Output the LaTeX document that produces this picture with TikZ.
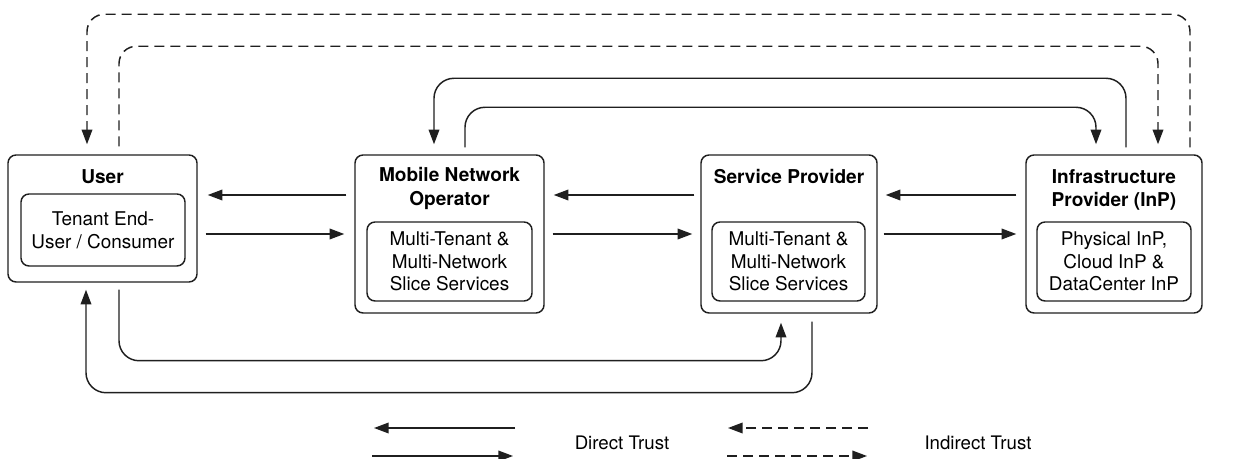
\documentclass[tikz,border=0pt]{standalone}
\usepackage{fontspec}
\setmainfont{TeX Gyre Heros}
\usetikzlibrary{arrows.meta,calc}
\begin{document}
\begin{tikzpicture}[x=0.75pt,y=-0.75pt,
  ink/.style={draw=black!88, line width=1.1pt},
  outerbox/.style={ink, rounded corners=6pt, inner sep=0pt},
  innerbox/.style={ink, rounded corners=6pt, inner sep=0pt, align=center,
    font=\fontsize{14.2pt}{17pt}\selectfont},
  title/.style={align=center, font=\fontsize{14.3pt}{17.5pt}\selectfont\bfseries},
  legendtext/.style={font=\fontsize{14pt}{17pt}\selectfont},
  tip/.style={-{Triangle[length=11pt,width=8pt]}},
  dt/.style={ink, tip},
  it/.style={ink, tip, dash pattern=on 7.5pt off 4.5pt},
  dtbend/.style={dt, rounded corners=15pt},
  itbend/.style={it, rounded corners=13pt}]
\useasboundingbox (0,0) rectangle (1239,459);

% actors
\node[outerbox, minimum width=141.75pt, minimum height=95.25pt] (user) at (102.5,218.5) {};
\node[title] (usert) at (102.5,177) {User};
\node[innerbox, minimum width=123pt, minimum height=54pt] (useri) at (103,230)
  {Tenant End-\\User / Consumer};

\node[outerbox, minimum width=141.75pt, minimum height=118.5pt] (mno) at (449.5,234) {};
\node[title] (mnot) at (449.5,188.5) {Mobile Network\\Operator};
\node[innerbox, minimum width=123.75pt, minimum height=59.25pt] (mnoi) at (449.5,261.5)
  {Multi-Tenant \&\\Multi-Network\\Slice Services};

\node[outerbox, minimum width=132pt, minimum height=118.5pt] (sp) at (789,234) {};
\node[title] (spt) at (789,177) {Service Provider};
\node[innerbox, minimum width=114.75pt, minimum height=59.25pt] (spi) at (788.5,261.5)
  {Multi-Tenant \&\\Multi-Network\\Slice Services};

\node[outerbox, minimum width=132pt, minimum height=118.5pt] (inp) at (1114,234) {};
\node[title] (inpt) at (1114,190) {Infrastructure\\Provider (InP)};
\node[innerbox, minimum width=115.5pt, minimum height=59.25pt] (inpi) at (1114,261.5)
  {Physical InP,\\Cloud InP \&\\DataCenter InP};

% rows of the horizontal links
\coordinate (rowA) at (0,195);
\coordinate (rowB) at (0,234);

% neighbouring direct trust
\draw[dt] ($(mno.west|-rowA)+(-8,0)$) -- ($(user.east|-rowA)+(10,0)$);
\draw[dt] ($(user.east|-rowB)+(8,0)$) -- ($(mno.west|-rowB)+(-10,0)$);
\draw[dt] ($(sp.west|-rowA)+(-6,0)$) -- ($(mno.east|-rowA)+(9,0)$);
\draw[dt] ($(mno.east|-rowB)+(8,0)$) -- ($(sp.west|-rowB)+(-8,0)$);
\draw[dt] ($(inp.west|-rowA)+(-9,0)$) -- ($(sp.east|-rowA)+(8,0)$);
\draw[dt] ($(sp.east|-rowB)+(6,0)$) -- ($(inp.west|-rowB)+(-9,0)$);

% indirect trust between user and InP
\draw[itbend] ($(inp.north)+(76,-7)$) -- ++(0,-133) -| ($(user.north)+(-15.5,-10)$);
\draw[itbend] ($(user.north)+(16.5,-8)$) -- ++(0,-100) -| ($(inp.north)+(44,-10)$);

% direct trust between operator and InP
\draw[dtbend] ($(inp.north)+(12,-7)$) -- ++(0,-69) -| ($(mno.north)+(-15.5,-10)$);
\draw[dtbend] ($(mno.north)+(15.5,-7)$) -- ++(0,-40) -| ($(inp.north)+(-18,-10)$);

% direct trust between user and service provider
\draw[dtbend] ($(user.south)+(16.5,7)$) -- ++(0,71) -| ($(sp.south)+(-8,9)$);
\draw[dtbend] ($(sp.south)+(23,8)$) -- ++(0,71) -| ($(user.south)+(-16.5,7)$);

% legend
\coordinate (la1) at (515,428);
\coordinate (la2) at (374,428);
\coordinate (lb1) at (372,456);
\coordinate (lb2) at (513,456);
\coordinate (lc1) at (868,428);
\coordinate (lc2) at (728,428);
\coordinate (ld1) at (727,456);
\coordinate (ld2) at (867,456);
\draw[dt] (la1) -- (la2);
\draw[dt] (lb1) -- (lb2);
\draw[it] (lc1) -- (lc2);
\draw[it] (ld1) -- (ld2);
\node[legendtext] (ldirect) at (622,443) {Direct Trust};
\node[legendtext] (lindirect) at (978,443) {Indirect Trust};
\end{tikzpicture}
\end{document}
